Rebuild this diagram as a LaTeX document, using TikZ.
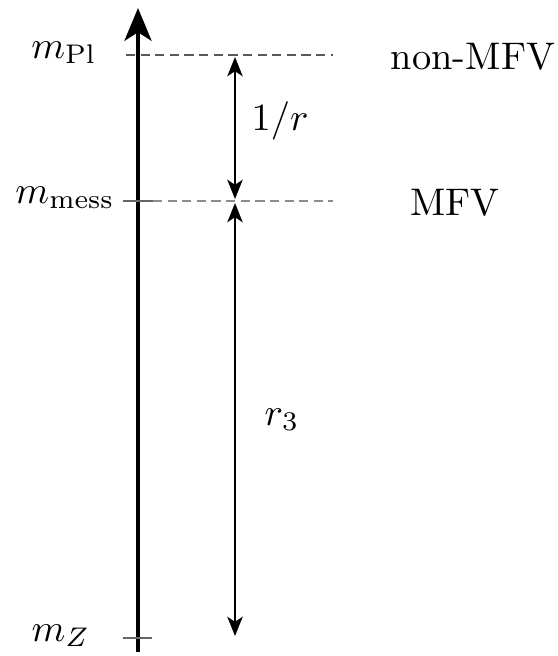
\documentclass[tikz,border=0pt]{standalone}
\usetikzlibrary{arrows.meta}
\begin{document}
\begin{tikzpicture}[x=0.26pt,y=-0.26pt,
  axisline/.style={line width=1.2pt,-{Stealth[length=8.5pt,width=7pt,inset=2.2pt]}},
  scalearrow/.style={line width=0.5pt,{Stealth[length=5pt,width=4pt,inset=1.3pt]}-{Stealth[length=5pt,width=4pt,inset=1.3pt]}},
  levelline/.style={black!65,line width=0.45pt,dash pattern=on 2.4pt off 1.4pt},
  tickline/.style={black!60,line width=0.45pt},
  lbl/.style={anchor=base,inner sep=0pt}]
\useasboundingbox (0,0) rectangle (557,656);
% axis
\coordinate (bot) at (138,652);
\coordinate (top) at (138,8);
\draw[axisline] (bot) -- (top);
% level lines
\coordinate (plL) at (126,55);
\coordinate (plR) at (333,55);
\coordinate (meL) at (123,201);
\coordinate (meM) at (153,201);
\coordinate (meR) at (333,201);
\coordinate (mzL) at (123,638);
\coordinate (mzR) at (152,638);
\draw[levelline] (plL) -- (plR);
\draw[tickline] (meL) -- (meM);
\draw[levelline,black!45] (meM) -- (meR);
\draw[tickline] (mzL) -- (mzR);
% double arrows
\coordinate (a1) at (235,57);
\coordinate (a2) at (235,199);
\coordinate (b1) at (235,203);
\coordinate (b2) at (235,636);
\draw[scalearrow] (a1) -- (a2);
\draw[scalearrow] (b1) -- (b2);
% labels
\node[lbl] (lpl) at (64,58) {$m_{\mathrm{Pl}}$};
\node[lbl] (lme) at (65,203) {$m_{\mathrm{mess}}$};
\node[lbl] (lmz) at (61,641) {$m_Z$};
\node[lbl] (lr) at (280,130) {$1/r$};
\node[lbl] (lr3) at (282,425) {$r_3$};
\node[lbl] (lnon) at (473,69) {non-MFV};
\node[lbl] (lmfv) at (455,215) {MFV};
\end{tikzpicture}
\end{document}
